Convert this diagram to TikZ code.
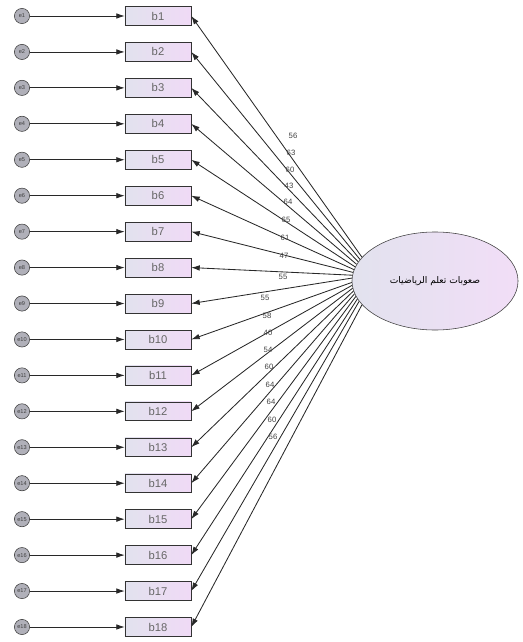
\documentclass[tikz,border=0pt]{standalone}
\usepackage{fontspec}
\setmainfont{Liberation Sans}
\newfontfamily\arabicfont[Script=Arabic]{DejaVu Sans}
\TeXXeTstate=1
\usepackage{xcolor}
\usetikzlibrary{shapes,arrows,arrows.meta,positioning,calc}
\definecolor{boxleft}{RGB}{226,226,238}
\definecolor{boxright}{RGB}{240,218,246}
\definecolor{errgray}{RGB}{150,150,162}
\definecolor{linegray}{RGB}{40,40,40}

\begin{document}
\begin{tikzpicture}[x=0.025cm, y=-0.025cm, >={Latex[length=6pt,width=4pt]},
				item/.style={rectangle, draw=black!80, left color=boxleft, right color=boxright, minimum width=1.65cm, minimum height=0.47cm, inner sep=0pt, font=\footnotesize, text=black!60},
				err/.style={circle, draw=black!75, fill=errgray!75, minimum size=0.38cm, inner sep=0pt, font=\fontsize{4}{4}\selectfont, text=black!75},
				factor/.style={ellipse, draw=black!75, left color=boxleft, right color=boxright!90, minimum width=4.15cm, minimum height=2.45cm, font=\fontsize{6.5}{7}\selectfont},
				load/.style={font=\fontsize{5.5}{6}\selectfont, text=black!75, inner sep=0pt}]
				\useasboundingbox (0,0) rectangle (522,642);
				\node[factor] (fac) at (435,281) {\arabicfont\beginR صعوبات تعلم الرياضيات\endR};
				
				% items, errors and loadings
				\foreach \i/\lab/\lx/\ly in {1/56/293/136, 2/63/291/153, 3/60/290/170, 4/43/289/186, 5/64/288/202, 6/65/286/220, 7/61/285/238, 8/47/284/256, 9/55/283/277,
				10/55/265/298, 11/58/267/316, 12/40/268/333, 13/54/268/350, 14/60/269/367, 15/64/270/385, 16/64/271/402, 17/60/272/420, 18/56/273/437} {
					\node[item] (b\i) at (158,{16+(\i-1)*35.94}) {b\i};
					\node[err] (e\i) at (22,{16+(\i-1)*35.94}) {e\i};
					\pgfmathsetmacro{\ang}{162+(\i-1)*36/17}
					\draw[->, semithick, linegray] (e\i) -- (b\i);
					\draw[->, semithick, linegray] (fac.\ang) -- (b\i.east);
					\node[load] (l\i) at (\lx,\ly) {\lab};
				}
			\end{tikzpicture}
\end{document}
